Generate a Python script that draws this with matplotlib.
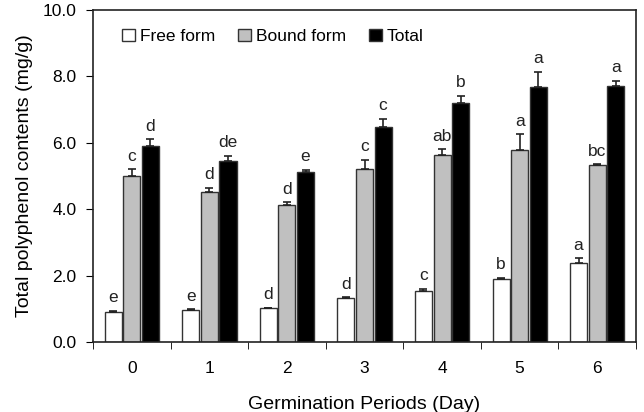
import numpy as np
import matplotlib.pyplot as plt

plt.rcParams['font.family'] = ['Liberation Sans', 'DejaVu Sans']
plt.rcParams['font.size'] = 12

days = [0, 1, 2, 3, 4, 5, 6]

free_form = [0.91, 0.96, 1.01, 1.32, 1.55, 1.90, 2.37]
free_err = [0.03, 0.02, 0.02, 0.03, 0.05, 0.03, 0.15]
free_letters = ['e', 'e', 'd', 'd', 'c', 'b', 'a']

bound_form = [5.01, 4.51, 4.13, 5.20, 5.63, 5.78, 5.33]
bound_err = [0.19, 0.14, 0.08, 0.28, 0.17, 0.48, 0.02]
bound_letters = ['c', 'd', 'd', 'c', 'ab', 'a', 'bc']

total = [5.91, 5.46, 5.11, 6.47, 7.19, 7.69, 7.71]
total_err = [0.19, 0.15, 0.07, 0.25, 0.22, 0.45, 0.15]
total_letters = ['d', 'de', 'e', 'c', 'b', 'a', 'a']

fig = plt.figure(figsize=(6.44, 4.12), dpi=100)
ax = fig.add_axes([0.1444, 0.170, 0.8432, 0.8058])

x = np.arange(len(days))
w = 0.22
off = 0.24

series = [
    (free_form, free_err, free_letters, 'white', 'Free form', -off),
    (bound_form, bound_err, bound_letters, '#c0c0c0', 'Bound form', 0),
    (total, total_err, total_letters, 'black', 'Total', off),
]

for vals, errs, letters, col, lab, dx in series:
    ax.bar(x + dx, vals, width=w, color=col, edgecolor='#333333', linewidth=1, label=lab, zorder=2)
    ax.errorbar(x + dx, vals, yerr=[np.zeros(len(errs)), errs], fmt='none',
                ecolor='#222222', elinewidth=1.2, capsize=2.6, capthick=1.2, zorder=3)
    for xi, v, e, t in zip(x + dx, vals, errs, letters):
        ax.annotate(t, (xi, v + e), xytext=(0, 4), textcoords='offset points',
                    ha='center', va='bottom', fontsize=12.5, color='#222222')

ax.set_xlim(-0.5, 6.5)
ax.set_ylim(0, 10)
ax.set_yticks([0, 2, 4, 6, 8, 10])
ax.set_yticklabels(['0.0', '2.0', '4.0', '6.0', '8.0', '10.0'])
ax.set_xticks(x)
ax.set_xticklabels([str(d) for d in days])
ax.set_xticks(np.arange(-0.5, 7, 1), minor=True)
ax.tick_params(axis='x', which='major', length=0, pad=14, labelsize=12.5)
ax.tick_params(axis='x', which='minor', length=5, direction='out')
ax.tick_params(axis='y', length=5, direction='out', labelsize=12.5, pad=7)
for s in ax.spines.values():
    s.set_linewidth(1.2)
    s.set_color('#222222')

ax.set_xlabel('Germination Periods (Day)', fontsize=14, labelpad=14)
ax.set_ylabel('Total polyphenol contents (mg/g)', fontsize=14, labelpad=7)

ax.legend(loc='upper left', ncol=3, frameon=False, fontsize=12.5, handlelength=0.75,
          handleheight=0.75, handletextpad=0.3, columnspacing=1.3,
          borderaxespad=0, bbox_to_anchor=(0.04, 0.965))

plt.savefig('out.png', dpi=100)
